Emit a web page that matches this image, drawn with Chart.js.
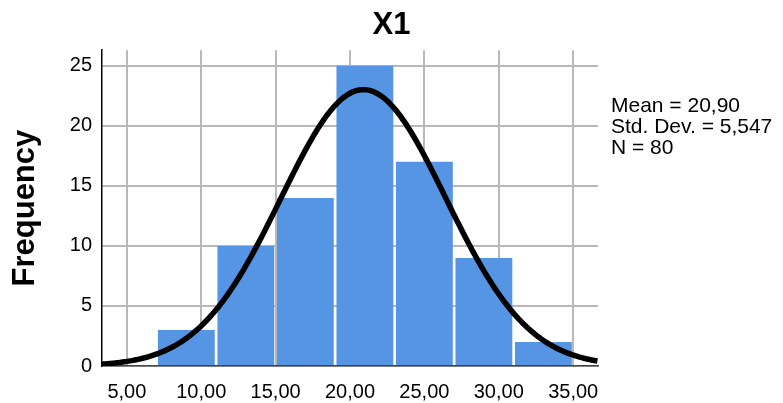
<!DOCTYPE html>
<html>
<head>
<meta charset="utf-8">
<script src="https://cdn.jsdelivr.net/npm/chart.js@4/dist/chart.umd.min.js"></script>
<style>
    html, body { margin: 0; padding: 0; background: #fff; }
    #wrap { width: 783px; height: 403px; }
</style>
</head>
<body>
<div id="wrap"><canvas id="histChart" width="783" height="403"></canvas></div>
<script>
// Histogram bins (centres, width 4) and counts
const binCenters = [9, 13, 17, 21, 25, 29, 33];
const binCounts = [3, 10, 14, 25, 17, 9, 2];
const binWidth = 4;

// Summary stats shown at the right
const statMean = 20.90;
const statSd = 5.547;
const statN = 80;
const statLines = ['Mean = 20,90', 'Std. Dev. = 5,547', 'N = 80'];

// Axis ticks
const xTicks = [5, 10, 15, 20, 25, 30, 35];
const xTickLabels = ['5,00', '10,00', '15,00', '20,00', '25,00', '30,00', '35,00'];
const yTicks = [0, 5, 10, 15, 20, 25];
const xMin = 3.33, xMax = 36.67;
const yMax = 26.3;

// Normal curve fitted from the stats above (what SPSS overlays)
const curvePoints = [];
for (let x = xMin; x <= xMax + 0.001; x += 0.1) {
    const z = (x - statMean) / statSd;
    const y = statN * binWidth * Math.exp(-0.5 * z * z) / (statSd * Math.sqrt(2 * Math.PI));
    curvePoints.push({ x: x, y: y });
}

Chart.defaults.font.family = '"Liberation Sans", Arial, sans-serif';
Chart.defaults.color = '#000';

// Draws the Mean / Std. Dev. / N block
const statsText = {
    id: 'statsText',
    afterDraw(chart) {
        const ctx = chart.ctx;
        ctx.save();
        ctx.font = '21px "Liberation Sans", Arial, sans-serif';
        ctx.fillStyle = '#000';
        ctx.textAlign = 'left';
        ctx.textBaseline = 'alphabetic';
        statLines.forEach((line, i) => {
            ctx.fillText(line, 611, 112 + i * 21);
        });
        ctx.restore();
    }
};

new Chart(document.getElementById('histChart'), {
    type: 'bar',
    data: {
        datasets: [
            {
                type: 'line',
                data: curvePoints,
                borderColor: '#000',
                borderWidth: 5.5,
                pointRadius: 0,
                tension: 0,
                fill: false,
                order: 0
            },
            {
                type: 'bar',
                data: binCenters.map((c, i) => ({ x: c, y: binCounts[i] })),
                backgroundColor: '#5595e4',
                borderWidth: 0,
                categoryPercentage: 1,
                barPercentage: 0.955,
                order: 1
            }
        ]
    },
    options: {
        responsive: false,
        animation: false,
        layout: { padding: { top: 1, right: 0, bottom: 0, left: 0 } },
        plugins: {
            legend: { display: false },
            tooltip: { enabled: false },
            title: {
                display: true,
                text: 'X1',
                font: { size: 31, weight: 'bold' },
                padding: { top: 6, bottom: 6 },
                color: '#000'
            }
        },
        scales: {
            x: {
                type: 'linear',
                min: xMin,
                max: xMax,
                offset: false,
                afterBuildTicks: axis => {
                    axis.ticks = xTicks.map(v => ({ value: v }));
                },
                afterFit: axis => { axis.height = 37; },
                ticks: {
                    font: { size: 20 },
                    color: '#000',
                    padding: 14,
                    maxRotation: 0,
                    autoSkip: false,
                    callback: (v) => xTickLabels[xTicks.indexOf(v)]
                },
                grid: { color: '#b8b8b8', lineWidth: 2, drawTicks: false, offset: false },
                border: { display: true, color: '#444', width: 1.5 }
            },
            y: {
                min: 0,
                max: yMax,
                afterBuildTicks: axis => {
                    axis.ticks = yTicks.map(v => ({ value: v }));
                },
                afterFit: axis => { axis.width = 102; },
                ticks: {
                    font: { size: 20 },
                    color: '#000',
                    padding: 10
                },
                title: {
                    display: true,
                    text: 'Frequency',
                    font: { size: 31, weight: 'bold' },
                    color: '#000',
                    padding: { top: 7, bottom: 0 }
                },
                grid: { color: '#b8b8b8', lineWidth: 2, drawTicks: false },
                border: { display: true, color: '#000', width: 1.5 }
            },
            // empty right axis that only reserves room for the stats text
            side: {
                type: 'linear',
                position: 'right',
                min: 0,
                max: 1,
                afterFit: axis => { axis.width = 185; },
                ticks: { display: false },
                grid: { display: false, drawTicks: false },
                border: { display: false }
            }
        }
    },
    plugins: [statsText]
});
</script>
</body>
</html>
